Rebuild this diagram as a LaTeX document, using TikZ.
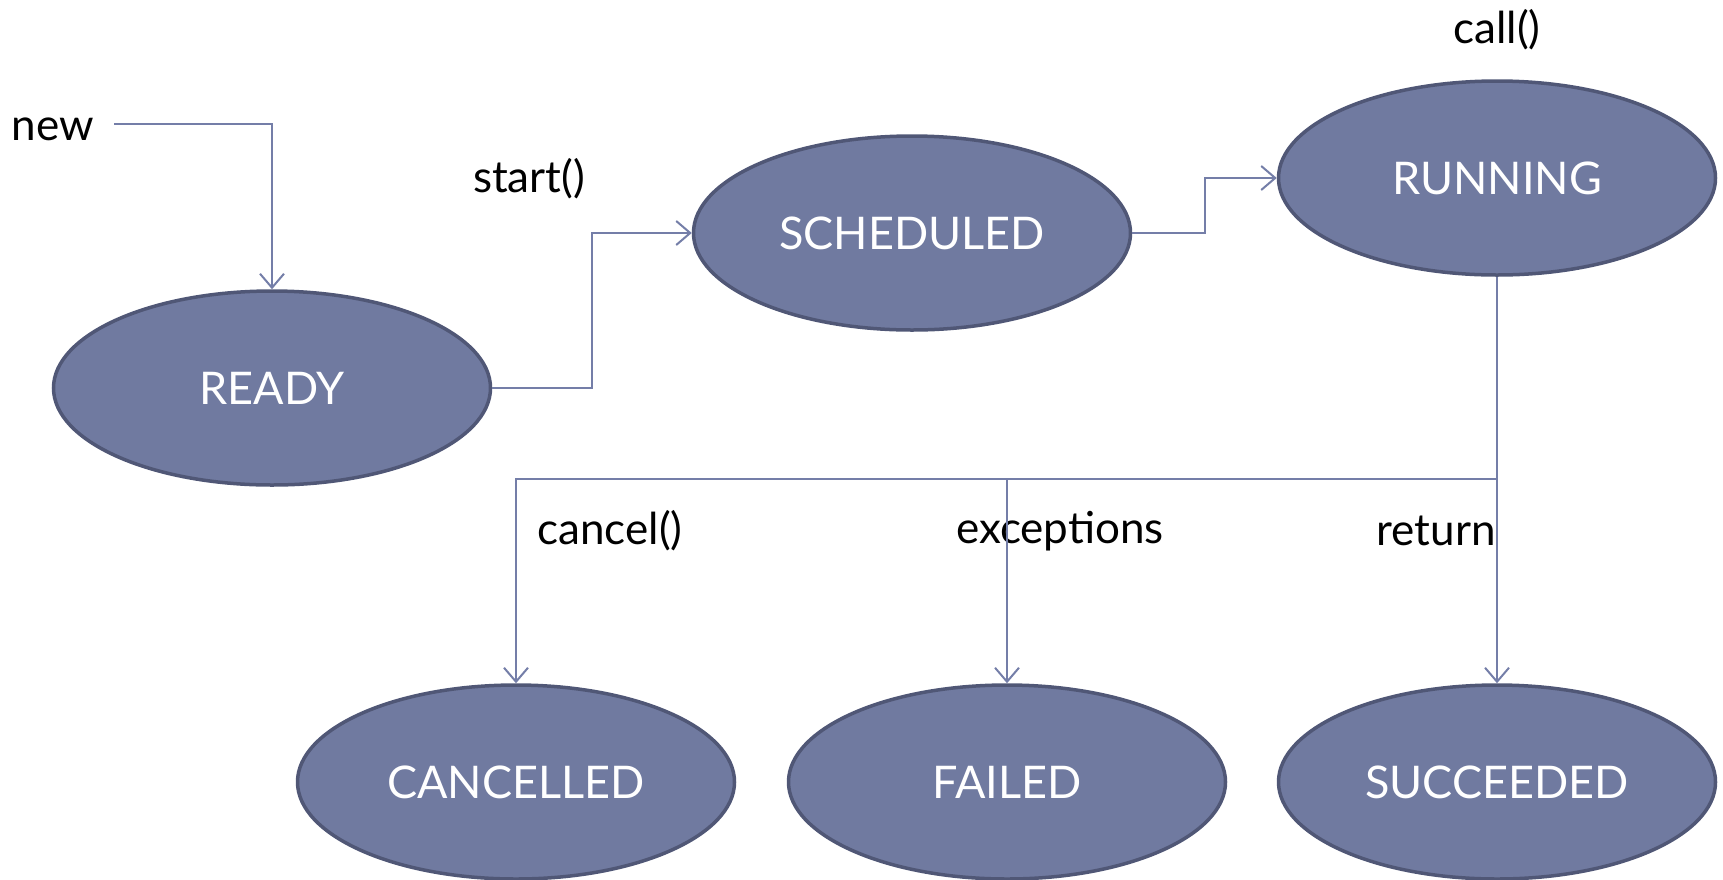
\documentclass[tikz,border=0pt]{standalone}
\usepackage{fontspec}
\setmainfont{Lato}
\usetikzlibrary{shapes.geometric,positioning,arrows.meta}

\definecolor{statefill}{RGB}{112,122,160}
\definecolor{stateline}{RGB}{80,87,118}
\definecolor{wirecol}{RGB}{116,126,168}

\tikzset{
  state/.style={ellipse, draw=stateline, line width=3.5pt, fill=statefill,
    text=white, minimum width=437pt, minimum height=194pt, inner sep=0pt,
    font=\fontsize{45}{54}\selectfont},
  lbl/.style={font=\fontsize{44}{52}\selectfont, inner sep=0pt},
  wire/.style={draw=wirecol, line width=2pt,
    -{Straight Barb[length=14pt,width=24pt,line width=2pt]}}
}

\begin{document}
\begin{tikzpicture}[x=1pt, y=-1pt, on grid]
    \useasboundingbox (0,0) rectangle (1723,879);

    % states
    \node[state] (ready) at (272,388) {READY};
    \node[state] (sched) at (912,233) {SCHEDULED};
    \node[state] (run) at (1497,178) {RUNNING};
    \node[state] (cancel) at (516,782) {CANCELLED};
    \node[state, right=491pt of cancel] (fail) {FAILED};
    \node[state, right=490pt of fail] (succ) {SUCCEEDED};

    % transition labels
    \node[lbl] (new) at (53,129) {new};
    \node[lbl] (start) at (529,179) {start()};
    \node[lbl] (call) at (1497,30) {call()};
    \node[lbl] (cancellbl) at (610,531) {cancel()};
    \node[lbl] (exclbl) at (1060,531) {exceptions};
    \node[lbl] (retlbl) at (1436,531) {return};

    \coordinate (newstart) at (114,124);
    \coordinate (bus) at (1497,479);

    % transitions
    \draw[wire] (newstart) -| (ready.north);
    \draw[wire] (ready.east) -- ++(100,0) |- (sched.west);
    \draw[wire] (sched.east) -- ++(73,0) |- (run.west);
    \draw[wire] (run.south) -- (bus) -| (cancel.north);
    \draw[wire] (bus -| fail.north) -- (fail.north);
    \draw[wire] (bus) -- (succ.north);
\end{tikzpicture}
\end{document}
